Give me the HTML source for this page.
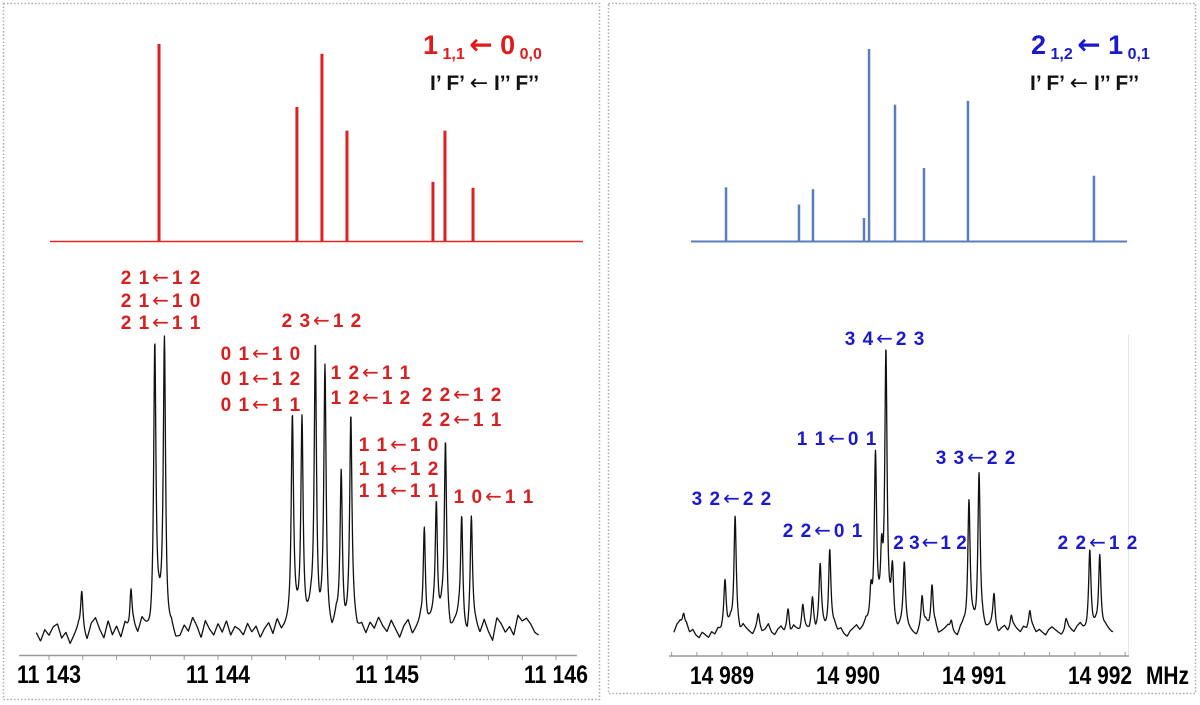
<!DOCTYPE html>
<html><head><meta charset="utf-8">
<style>
html,body{margin:0;padding:0;background:#fff;}
svg{display:block;font-family:"Liberation Sans",Arial,sans-serif;}
.ar{font-family:"DejaVu Sans",sans-serif;}
</style></head>
<body>
<svg id="fig" width="1200" height="705" viewBox="0 0 1200 705" xmlns="http://www.w3.org/2000/svg">
  <rect x="3.5" y="3.5" width="596" height="696" fill="none" stroke="#aaa" stroke-width="1.5" stroke-dasharray="1.5,2"/>
  <rect x="608.5" y="3.5" width="587" height="690" fill="none" stroke="#aaa" stroke-width="1.5" stroke-dasharray="1.5,2"/>
  <g id="left"></g>
  <g id="right"></g>
  <text x="423" y="54" font-size="27" font-weight="bold" fill="#e01b1b">1<tspan font-size="16" dy="5"> 1,1 </tspan><tspan dy="-5" class="ar" font-size="28">←</tspan><tspan> 0</tspan><tspan font-size="16" dy="5"> 0,0</tspan></text>
  <text x="430" y="90" font-size="21" font-weight="bold" fill="#111">I’ F’ <tspan class="ar" font-size="22" font-weight="normal">←</tspan> I’’ F’’</text>
  <text x="1031" y="54" font-size="27" font-weight="bold" fill="#1a1acc">2<tspan font-size="16" dy="5"> 1,2 </tspan><tspan dy="-5" class="ar" font-size="28">←</tspan><tspan> 1</tspan><tspan font-size="16" dy="5"> 0,1</tspan></text>
  <text x="1030" y="90" font-size="21" font-weight="bold" fill="#111">I’ F’ <tspan class="ar" font-size="22" font-weight="normal">←</tspan> I’’ F’’</text>
</svg>
<script>
// ---------- LEFT data ----------
const leftStickFreq=[11143.651,11144.467,11144.615,11144.763,11145.272,11145.343,11145.509];
const leftStickInt=[100,68,95,56,30,56,27];
const leftPeakFreq=[11143.194,11143.485,11143.626,11143.683,11144.440,11144.497,11144.576,11144.633,11144.729,11144.786,11145.221,11145.292,11145.346,11145.442,11145.499];
const leftPeakInt=[14,14,100,100,71,73,98,89,54,72,38,43,64,39,37];
const leftNoise=[-2,-5,-1,-3,0,1,-4,-2,-6,-3,0,-2,-5,1,3,-1,-4,2,-3,0,-4,1,-2,0,-3,2,-1,-4,-2,3,1,-3,-1,-5,-4,0,-2,3,0,-4,2,-1,-3,1,-2,2,-3,0,-1,-3,1,-2,0,-4,-1,1,-3,2,-2,-1,0,3,1,-2,0,4,-1,-3,1,-2,-4,2,-1,-3,0,2,-2,0,-3,1,-1,3,0,-2,2,-1,-4,0,2,-3,-1,1,-5,0,2,-2,3,-1,-4,0,2,-3,-6,1,0,-3,2,-2,-5,3,1,-2,0,-3,4,2,3,1,-2,-3,-1,2];
const leftNoiseStart=11142.925, leftNoiseStep=0.025;
const leftTicks=[11143,11144,11145,11146];
const leftTickLabels=['11 143','11 144','11 145','11 146'];
const leftLabelA=['21','21','21','23','01','01','01','12','12','22','22','11','11','11','10'];
const leftLabelB=['12','10','11','12','10','12','11','11','12','12','11','10','12','11','11'];
const leftLabelFreq=[11143.663,11143.663,11143.663,11144.615,11144.254,11144.254,11144.254,11144.905,11144.905,11145.444,11145.444,11145.071,11145.071,11145.071,11145.633];
const leftLabelRow=[277,300,322,320,353,378,404,372,397,394,419,444,468,490,496];

// ---------- RIGHT data ----------
const rightStickFreq=[14989.032,14989.611,14989.722,14990.127,14990.167,14990.373,14990.603,14990.952,14991.952];
const rightStickInt=[28,19,27,12,100,71,38,73,34];
const rightPeakFreq=[14989.024,14989.104,14989.779,14989.855,14990.218,14990.267,14990.301,14990.353,14990.447,14990.588,14990.667,14990.960,14991.040,14991.159,14991.919,14991.998,14989.525,14989.641,14989.718,14989.287,14990.182,14991.296,14991.443,14991.730,14990.820,14988.695];
const rightPeakInt=[17,42,23,30,64,22,100,19,23,12,17,47,57,13,28,28,8,7,10,5,12,5,5,4,4,5];
const rightNoise=[-1,2,3,1,2,-1,0,-2,-3,-1,-2,-3,-1,-2,0,-1,1,0,2,-1,0,-2,1,0,-1,-2,0,1,-1,0,2,-1,-2,0,1,-1,0,-2,1,0,-1,2,0,-1,1,-2,0,1,-1,-2,0,1,-1,0,-2,-3,-1,0,1,-1,0,2,0,-1,-2,1,0,-1,0,2,-1,-2,0,1,0,-1,-2,-3,-1,0,2,0,-1,1,-2,-1,0,1,-1,-2,-3,0,1,-1,0,1,-2,0,1,-1,0,1,-1,-2,0,1,-1,0,1,0,-1,1,0,2,1,-1,0,-1,-2,0,1,0,-1,-2,-1,1,0,-1,1,2,0,-1,1,0,1,-1,0,1,0,-1];
const rightNoiseStart=14988.618, rightNoiseStep=0.025;
const rightTicks=[14989,14990,14991,14992];
const rightTickLabels=['14 989','14 990','14 991','14 992'];
const rightLabelA=['34','11','33','32','22','23','22'];
const rightLabelB=['23','01','22','22','01','12','12'];
const rightLabelFreq=[14990.294,14989.913,14991.016,14989.079,14989.802,14990.651,14991.984];
const rightLabelRow=[338,438,457,498,530,542,542];

const NS='http://www.w3.org/2000/svg';
function mk(parent,tag,attrs){const e=document.createElementNS(NS,tag);for(const k in attrs)e.setAttribute(k,attrs[k]);parent.appendChild(e);return e;}

// scales
const xL=f=>49+(f-11143)*169;
const ySL=v=>241-v*1.97;
const yL=v=>627-v*2.86;
const xR=f=>722+(f-14989)*126;
const ySR=v=>241-v*1.92;
const yR=v=>630-v*2.72;

function spectrumPath(f0,f1,step,pf,pi,gam,noise,ns,nstep,xs,ys){
  let d='';
  for(let f=f0;f<=f1+1e-9;f+=step){
    let v=0;
    for(let i=0;i<pf.length;i++){const t=(f-pf[i])/gam;v+=pi[i]/(1+t*t);}
    const p=(f-ns)/nstep;let i0=Math.floor(p);i0=Math.max(0,Math.min(noise.length-2,i0));
    const fr=Math.max(0,Math.min(1,p-i0));
    v+=noise[i0]*(1-fr)+noise[i0+1]*fr;
    d+=(d?'L':'M')+xs(f).toFixed(2)+','+ys(v).toFixed(2);
  }
  return d;
}
function label(parent,cx,y,a,b,w,color,sp){
  const g=mk(parent,'text',{x:cx,y:y,'font-size':19,'font-weight':'bold','text-anchor':'middle',fill:color,'letter-spacing':sp});
  const t1=mk(g,'tspan',{});t1.textContent=a.split('').join(' ');
  const t2=mk(g,'tspan',{class:'ar','font-size':20,'font-weight':'normal',dx:2});t2.textContent='←';
  const t3=mk(g,'tspan',{dx:2});t3.textContent=b.split('').join(' ');
  return g;
}

// ===== LEFT =====
const L=document.getElementById('left');
let e;
e=mk(L,'line',{x1:50,x2:583,y1:241.5,y2:241.5,stroke:'#e02a2a','stroke-width':1.5});


for(let i=0;i<leftStickFreq.length;i++){
  e=mk(L,'line',{x1:xL(leftStickFreq[i]),x2:xL(leftStickFreq[i]),y1:241.5,y2:ySL(leftStickInt[i]),stroke:'#e02020','stroke-width':3});
  
  
}
e=mk(L,'path',{d:spectrumPath(11142.925,11145.898,0.002,leftPeakFreq,leftPeakInt,0.008,leftNoise,leftNoiseStart,leftNoiseStep,xL,yL),fill:'none',stroke:'#111','stroke-width':1.3,'stroke-linejoin':'round'});


e=mk(L,'line',{x1:19,x2:577,y1:655.5,y2:655.5,stroke:'#999','stroke-width':1.5});


for(let k=0;k<=15;k++){
  const f=11143+k*0.2;
  e=mk(L,'line',{x1:xL(f),x2:xL(f),y1:655,y2:660,stroke:'#999','stroke-width':1});
  
  
}
for(let i=0;i<leftTicks.length;i++){
  e=mk(L,'text',{x:xL(leftTicks[i]),y:683,'font-size':25,'font-weight':'bold','text-anchor':'middle',textLength:64,lengthAdjust:'spacingAndGlyphs',fill:'#000'});
  e.textContent=leftTickLabels[i];
  
  
}
for(let i=0;i<leftLabelA.length;i++){
  e=label(L,xL(leftLabelFreq[i]),leftLabelRow[i]+7,leftLabelA[i],leftLabelB[i],82,'#d81e1e',1);
  
  
}

// ===== RIGHT =====
const R=document.getElementById('right');
e=mk(R,'line',{x1:691,x2:1127,y1:241.5,y2:241.5,stroke:'#5a7dbb','stroke-width':2});


for(let i=0;i<rightStickFreq.length;i++){
  e=mk(R,'line',{x1:xR(rightStickFreq[i]),x2:xR(rightStickFreq[i]),y1:241.5,y2:ySR(rightStickInt[i]),stroke:'#5a7dbb','stroke-width':2.5});
  
  
}
e=mk(R,'line',{x1:1128.5,x2:1128.5,y1:335,y2:656,stroke:'#e4e4e4','stroke-width':1});


e=mk(R,'path',{d:spectrumPath(14988.618,14992.105,0.002,rightPeakFreq,rightPeakInt,0.011,rightNoise,rightNoiseStart,rightNoiseStep,xR,yR),fill:'none',stroke:'#111','stroke-width':1.3,'stroke-linejoin':'round'});


e=mk(R,'line',{x1:669,x2:1129,y1:656,y2:656,stroke:'#999','stroke-width':1.5});


for(let k=0;k<=18;k++){
  const f=14988.6+k*0.2;
  e=mk(R,'line',{x1:xR(f),x2:xR(f),y1:652,y2:656,stroke:'#999','stroke-width':1});
  
  
}
for(let i=0;i<rightTicks.length;i++){
  e=mk(R,'text',{x:xR(rightTicks[i]),y:684,'font-size':25,'font-weight':'bold','text-anchor':'middle',textLength:64,lengthAdjust:'spacingAndGlyphs',fill:'#000'});
  e.textContent=rightTickLabels[i];
  
  
}
e=mk(R,'text',{x:1146,y:684,'font-size':25,'font-weight':'bold',textLength:43,lengthAdjust:'spacingAndGlyphs',fill:'#000'});
e.textContent='MHz';


for(let i=0;i<rightLabelA.length;i++){
  e=label(R,xR(rightLabelFreq[i]),rightLabelRow[i]+7,rightLabelA[i],rightLabelB[i],83,'#1a1acc',(i===5?0:1));
  
  
}
</script>
</body></html>
